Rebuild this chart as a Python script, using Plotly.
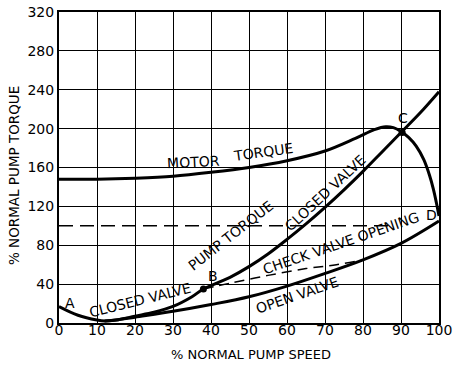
import plotly.graph_objects as go

# Data
closed_x = [0, 5, 10, 12, 15, 20, 25, 30, 35, 38, 45, 50, 55, 60, 65, 70, 75, 80, 85, 90, 95, 100]
closed_y = [17, 8, 3, 2, 3, 7, 11, 17, 27, 35, 47, 58, 71, 86, 102, 119, 137, 156, 176, 196, 216, 238]

open_x = [12, 15, 20, 30, 40, 50, 60, 70, 80, 90, 100]
open_y = [2, 3, 6, 12, 19, 27, 38, 51, 65, 82, 105]

motor_x = [0, 10, 20, 30, 40, 50, 60, 70, 78, 83, 86, 88, 90, 92, 94, 96, 97.5, 98.5, 99.3, 100]
motor_y = [148, 148, 149, 151, 155, 160, 167, 177, 190, 199, 202, 201, 197, 191, 182, 168, 152, 138, 124, 110]

check_x = [38, 45, 55, 65, 73, 80]
check_y = [35, 41, 49, 56, 60, 65]

ref_x = [0, 88]
ref_y = [100, 100]

point_x = [38, 90.3]
point_y = [35, 196]

x_ticks = [0, 10, 20, 30, 40, 50, 60, 70, 80, 90, 100]
y_ticks = [0, 40, 80, 120, 160, 200, 240, 280, 320]

FONT = "DejaVu Sans"
fig = go.Figure()

fig.add_trace(go.Scatter(x=ref_x, y=ref_y, mode="lines",
                         line=dict(color="black", width=1.5, dash="14px,7px")))
fig.add_trace(go.Scatter(x=check_x, y=check_y, mode="lines", line_shape="spline",
                         line=dict(color="black", width=1.5, dash="10px,6px")))
for xs, ys in [(closed_x, closed_y), (open_x, open_y), (motor_x, motor_y)]:
    fig.add_trace(go.Scatter(x=xs, y=ys, mode="lines", line_shape="spline",
                             line=dict(color="black", width=3)))
fig.add_trace(go.Scatter(x=point_x, y=point_y, mode="markers",
                         marker=dict(color="black", size=7)))

labels = [
    ("MOTOR", 35.3, 166, -3),
    ("TORQUE", 53.7, 176, -8),
    ("PUMP TORQUE", 45, 90, -38),
    ("CLOSED VALVE", 70, 134, -43),
    ("CHECK VALVE OPENING", 74.3, 82, -19),
    ("D", 97.9, 111, 0),
    ("OPEN VALVE", 62.7, 29, -19),
    ("CLOSED VALVE", 21.3, 24, -14),
    ("A", 3, 20.5, 0),
    ("B", 40.6, 48, 0),
    ("C", 90.5, 211, 0),
]
for text, x, y, ang in labels:
    fig.add_annotation(x=x, y=y, text=text, showarrow=False, textangle=ang,
                       font=dict(family=FONT, size=14, color="black"))

fig.add_annotation(x=0.505, y=-0.0997, xref="paper", yref="paper", showarrow=False,
                   xanchor="center", yanchor="middle",
                   text="% NORMAL PUMP SPEED", font=dict(family=FONT, size=13, color="black"))
fig.add_annotation(x=-0.118, y=0.473, xref="paper", yref="paper", showarrow=False,
                   xanchor="center", yanchor="middle",
                   text="% NORMAL PUMP TORQUE", textangle=-90,
                   font=dict(family=FONT, size=13.5, color="black"))

fig.update_layout(
    width=454, height=365,
    margin=dict(l=59, r=15, t=12, b=42, autoexpand=False),
    paper_bgcolor="white", plot_bgcolor="white",
    showlegend=False,
    font=dict(family=FONT, color="black"),
)
fig.update_xaxes(range=[0, 100], tickvals=x_ticks, ticks="", showgrid=True,
                 gridcolor="black", gridwidth=1.2, showline=True, linecolor="black",
                 linewidth=2, mirror=True, zeroline=False, automargin=False,
                 ticklabelstandoff=-7,
                 tickfont=dict(size=14, family=FONT))
fig.update_yaxes(range=[0, 320], tickvals=y_ticks, ticks="", showgrid=True,
                 gridcolor="black", gridwidth=1.2, showline=True, linecolor="black",
                 linewidth=2, mirror=True, zeroline=False, automargin=False,
                 tickfont=dict(size=14, family=FONT))

fig.write_html("out.html", config={"displayModeBar": False},
               post_script="document.body.style.margin='0';")
